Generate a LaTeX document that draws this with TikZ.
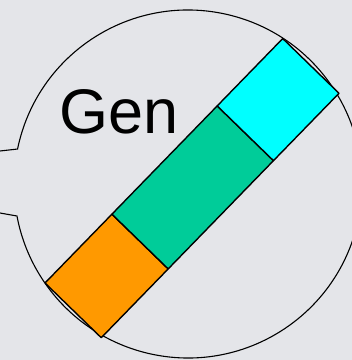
\documentclass[tikz,border=0pt]{standalone}
\usepackage{fontspec}
\newfontfamily\arialfont{Liberation Sans}
\usepackage{tikz}
\usetikzlibrary{calc}
\usepackage{xcolor}
\definecolor{bgrey}{RGB}{228,229,233}
\definecolor{genorange}{RGB}{255,153,0}
\definecolor{genteal}{RGB}{0,204,153}
\definecolor{gencyan}{RGB}{0,255,255}

\begin{document}
\begin{tikzpicture}[x=1pt,y=1pt]
    % Background
    \fill[bgrey] (0,0) rectangle (352,360);
    \useasboundingbox (0,0) rectangle (352,360);
    % Bubble with tail
    \coordinate (c) at (188,176);
    \draw[black, line width=1.1pt] (0,209) -- ($(c)+(168.4:174)$)
        arc[start angle=168.4, end angle=-169.4, radius=174]
        -- (0,147);
    % Label
    \node[font=\arialfont\fontsize{63}{70}\selectfont, anchor=base west, inner sep=0pt] (gen) at (59,227) {Gen};
    % Bar
    \begin{scope}[shift={(45,77)}, rotate=45.8, line width=1.4pt, line join=round]
        \filldraw[fill=genorange, draw=black] (0,0) rectangle (96,-78.5);
        \filldraw[fill=genteal, draw=black] (96,0) rectangle (247,-78.5);
        \filldraw[fill=gencyan, draw=black] (247,0) rectangle (341,-78.5);
    \end{scope}
\end{tikzpicture}
\end{document}
